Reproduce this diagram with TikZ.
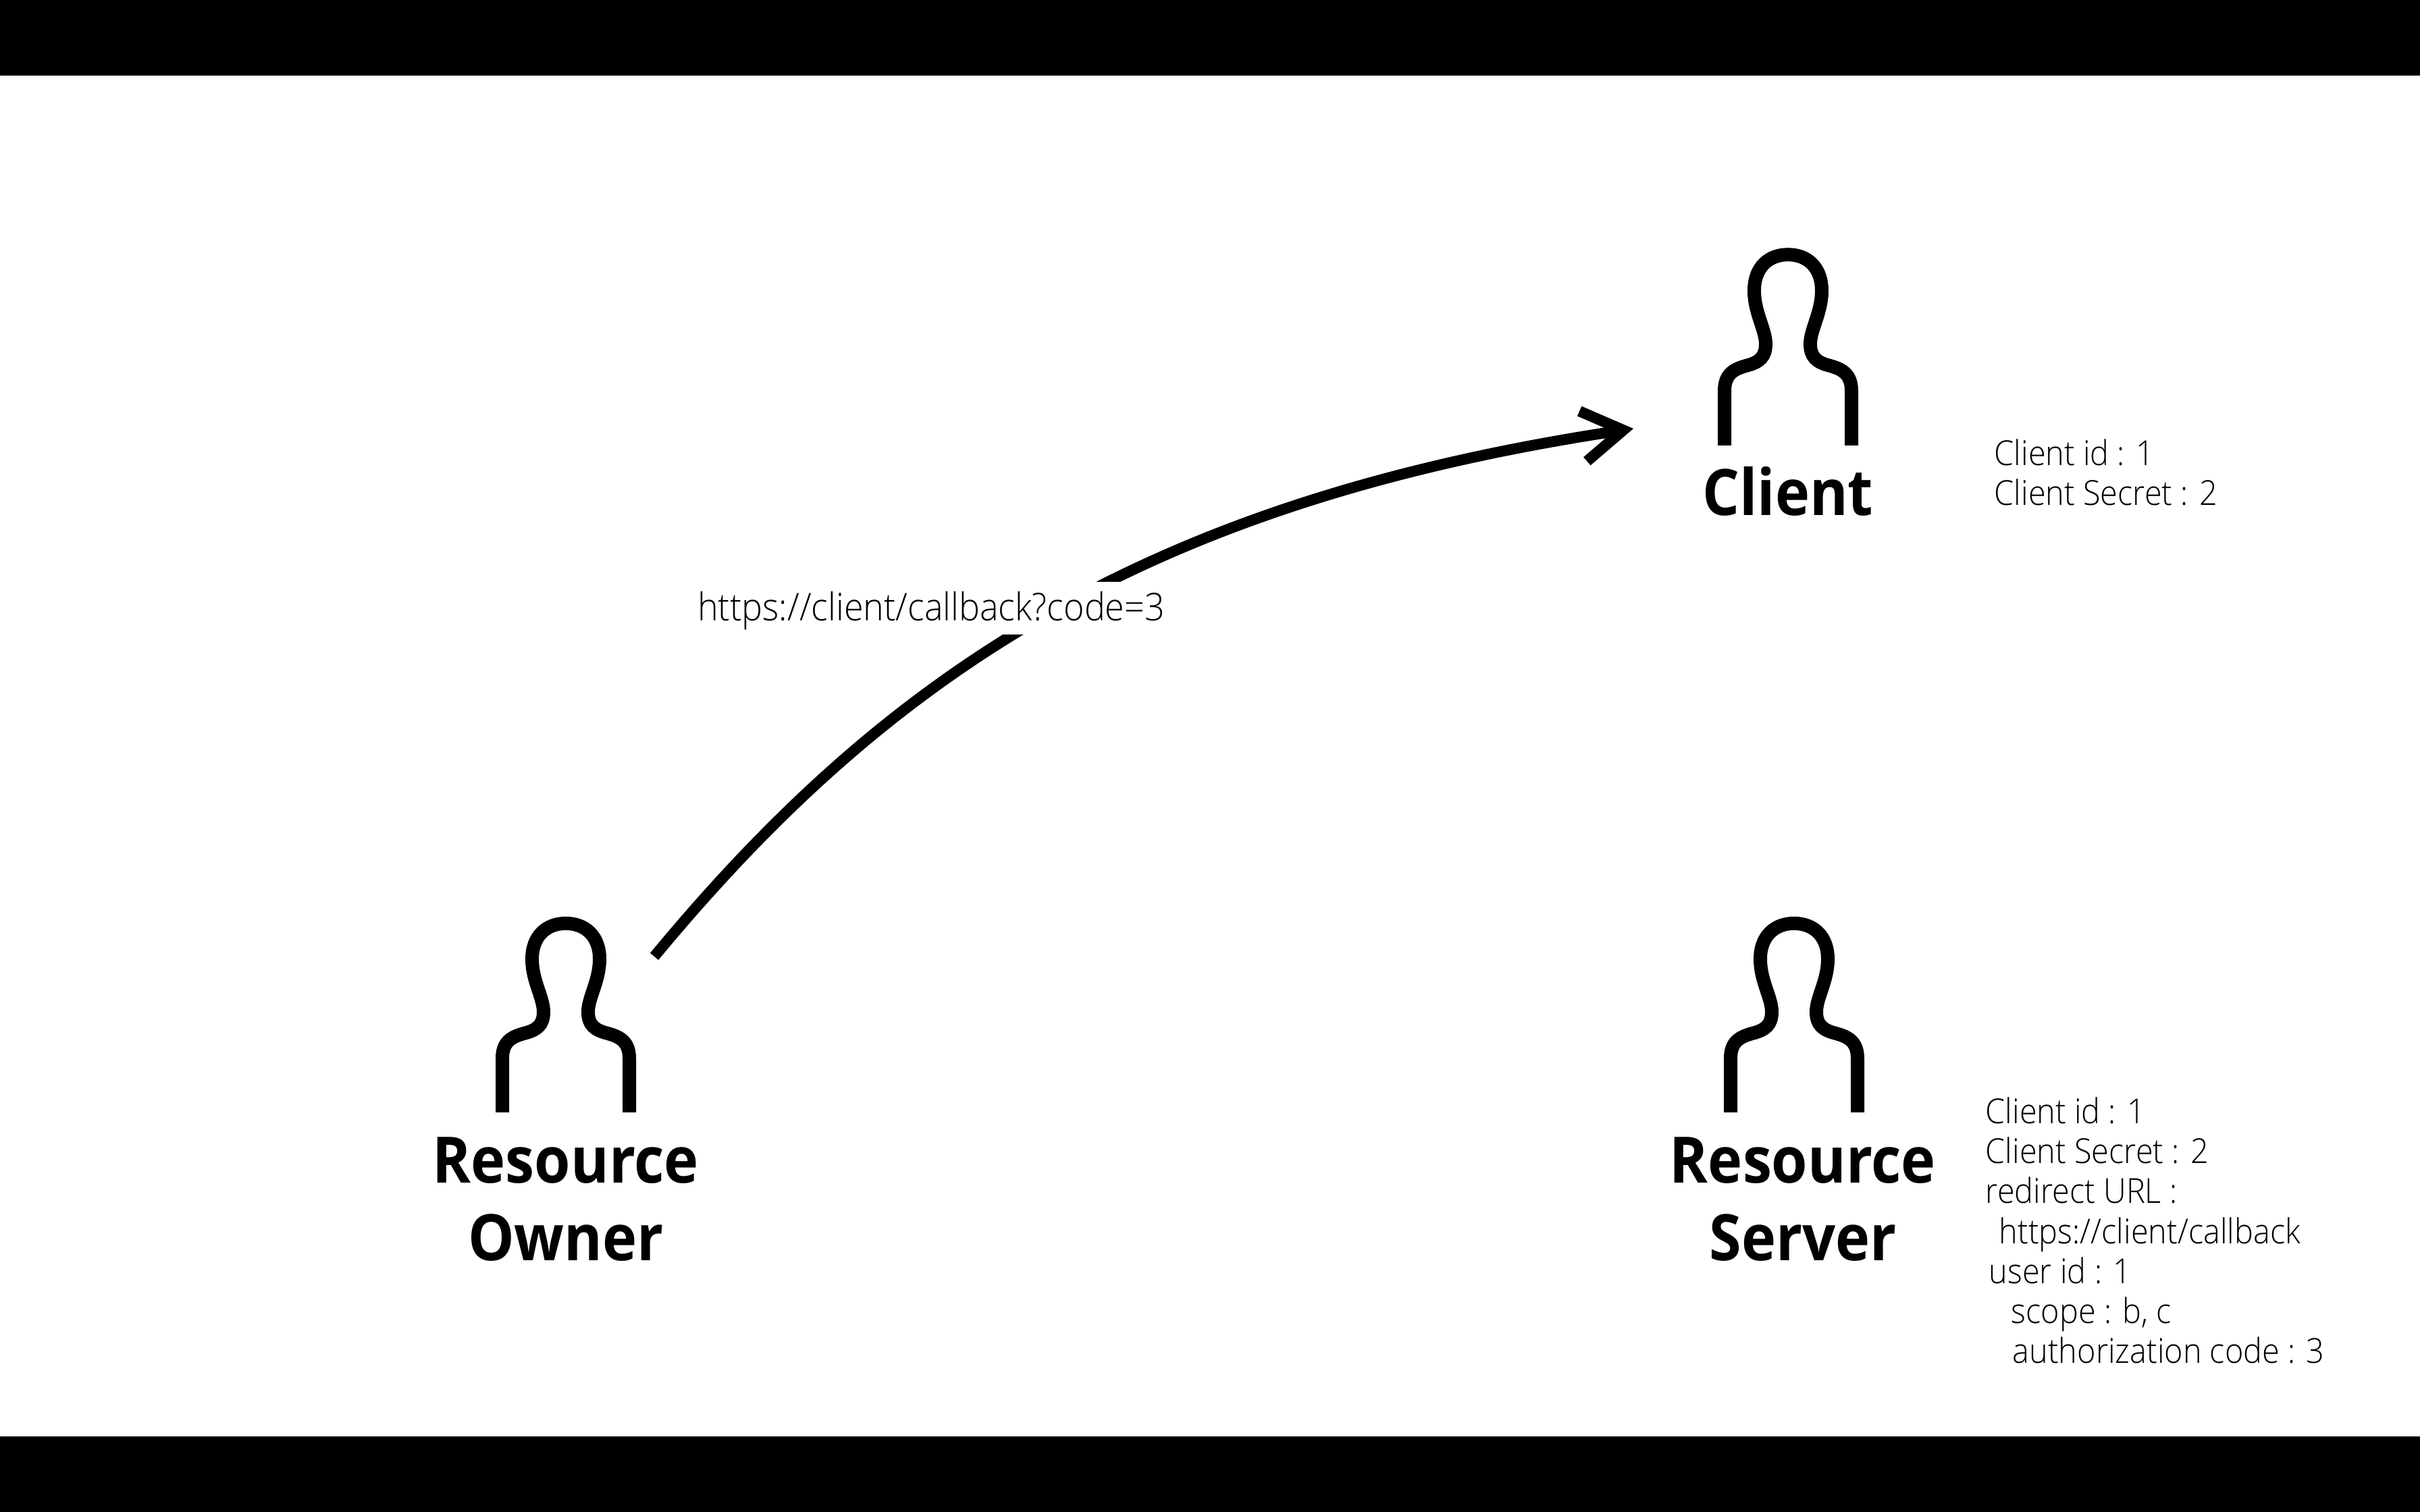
\documentclass[tikz,border=0pt]{standalone}
\usepackage{fontspec}
\setmainfont{Open Sans}
\newfontfamily\lightfont[FakeStretch=0.92]{Open Sans Light}
\newfontfamily\rolefont[FakeStretch=0.91]{Open Sans Bold}
\usetikzlibrary{arrows.meta}
\def\personicon(#1,#2,#3){\draw[line width=2mm, xshift=#1cm, yshift=#2cm, yscale=#3] (-0.94, 0) -- (-0.94, 0.80) .. controls (-0.94, 1.05) and (-0.80, 1.12) .. (-0.62, 1.17) .. controls (-0.42, 1.22) and (-0.33, 1.30) .. (-0.33, 1.49) .. controls (-0.33, 1.70) and (-0.50, 1.95) .. (-0.50, 2.27) .. controls (-0.50, 2.62) and (-0.28, 2.80) .. (0, 2.80) .. controls (0.28, 2.80) and (0.50, 2.62) .. (0.50, 2.27) .. controls (0.50, 1.95) and (0.33, 1.70) .. (0.33, 1.49) .. controls (0.33, 1.30) and (0.42, 1.22) .. (0.62, 1.17) .. controls (0.80, 1.12) and (0.94, 1.05) .. (0.94, 0.80) -- (0.94, 0);}
\tikzset{
	rolename/.style={font=\fontsize{27}{32.7}\selectfont\rolefont, align=center, inner sep=0},
	notetext/.style={font=\fontsize{14.5}{16.85}\selectfont\lightfont, align=left, anchor=north west, inner sep=0},
	flow/.style={line width=1.6mm, -{Straight Barb[length=6mm, width=7.5mm, line width=1.6mm]}}
}
\begin{document}
\begin{tikzpicture}
			%%%%% START %%%%%
			\useasboundingbox (0, 0) rectangle (35.84, 22.4);
			
			\fill[black] (0, 21.28) rectangle (35.84, 22.4);
			\fill[black] (0, 0) rectangle (35.84, 1.12);
			
			\personicon(26.48,15.80,1.01)
			\personicon(8.38,5.92,1)
			\personicon(26.57,5.92,1)
			
			\node[rolename] (client) at (26.48, 15.12) {Client};
			\node[rolename] (owner) at (8.38, 4.63) {Resource\\Owner};
			\node[rolename] (server) at (26.70, 4.63) {Resource\\Server};
			
			\coordinate (ownerout) at (9.69, 8.23);
			\coordinate (clientin) at (24.19, 16.05);
			\draw[flow] (ownerout) .. controls (13.1, 12.35) and (16.9, 14.95) .. (clientin);
			
			\node[fill=white, font=\fontsize{16.1}{18}\selectfont\lightfont, inner sep=0, text height=0.58cm, text depth=0.20cm] (callback) at (13.79, 13.39) {https://client/callback?code=3};
			
			\node[notetext] (clientnote) at (29.53, 15.90) {Client id : 1\\Client Secret : 2};
			\node[notetext] (servernote) at (29.40, 6.15) {Client id : 1\\Client Secret : 2\\redirect URL :\\\hspace*{0.2cm}https://client/callback\\\hspace*{0.05cm}user id : 1\\\hspace*{0.38cm}scope : b, c\\\hspace*{0.4cm}authorization code : 3};
			
			%%%%% END %%%%%
		\end{tikzpicture}
\end{document}
